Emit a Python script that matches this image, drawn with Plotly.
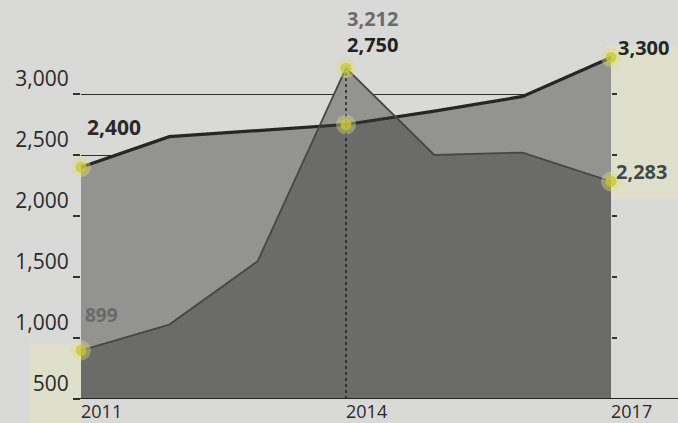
import plotly.graph_objects as go

years = [2011, 2012, 2013, 2014, 2015, 2016, 2017]
series_a = [2400, 2650, 2700, 2750, 2860, 2980, 3300]
series_b = [899, 1110, 1630, 3212, 2500, 2520, 2283]
y_ticks = [500, 1000, 1500, 2000, 2500, 3000]
x_ticks = [2011, 2014, 2017]
x_tick_labels = ["2011", "2014", "2017"]

PAPER = "#d9d9d7"
FILL = "rgba(58,58,58,0.44)"
FONT = "Open Sans"

fig = go.Figure()

# highlighter bands (photo artefacts)
fig.add_shape(type="rect", xref="paper", yref="paper", x0=0.99, x1=1.2, y0=0.545, y1=0.965,
              fillcolor="rgba(228,230,195,0.55)", line_width=0, layer="below")
fig.add_shape(type="rect", xref="paper", yref="paper", x0=-0.097, x1=0.0, y0=-0.1, y1=0.153,
              fillcolor="rgba(228,230,195,0.55)", line_width=0, layer="below")

# opaque paper-coloured bases so gridlines vanish under the areas
for s in (series_a, series_b):
    fig.add_trace(go.Scatter(x=years, y=s, mode="lines", fill="tozeroy", fillcolor=PAPER,
                             line=dict(width=0), hoverinfo="skip"))

fig.add_trace(go.Scatter(x=years, y=series_a, mode="lines", fill="tozeroy", fillcolor=FILL,
                         line=dict(color="#262626", width=3.2), hoverinfo="skip"))
fig.add_trace(go.Scatter(x=years, y=series_b, mode="lines", fill="tozeroy", fillcolor=FILL,
                         line=dict(color="#474747", width=1.8), hoverinfo="skip"))

# dotted guide at the peak year
peak_i = series_b.index(max(series_b))
fig.add_trace(go.Scatter(x=[years[peak_i], years[peak_i]], y=[y_ticks[0], series_b[peak_i]],
                         mode="lines", line=dict(color="#222", width=1.5, dash="dot"),
                         hoverinfo="skip"))

# highlighted points
hx = [years[0], years[0], years[peak_i], years[peak_i], years[-1], years[-1]]
hy = [series_a[0], series_b[0], series_b[peak_i], series_a[peak_i], series_a[-1], series_b[-1]]
fig.add_trace(go.Scatter(x=hx, y=hy, mode="markers",
                         marker=dict(size=20, color="rgba(220,222,120,0.4)", line_width=0),
                         hoverinfo="skip", cliponaxis=False))
fig.add_trace(go.Scatter(x=hx, y=hy, mode="markers",
                         marker=dict(size=11, color="rgba(200,200,50,0.75)", line_width=0),
                         hoverinfo="skip", cliponaxis=False))

# right-side tick axis
fig.add_trace(go.Scatter(x=years, y=series_a, yaxis="y2", mode="lines",
                         line=dict(width=0), opacity=0, hoverinfo="skip"))

def lab(x, y, v, color, xshift, yshift, bold=True, size=21):
    fig.add_annotation(x=x, y=y, text=(f"<b>{v:,}</b>" if bold else f"{v:,}"), showarrow=False,
                       xanchor="left", yanchor="middle", xshift=xshift, yshift=yshift,
                       font=dict(family=FONT, size=size, color=color))

lab(years[0], series_a[0], series_a[0], "#2a2a2a", 4, 40)
lab(years[0], series_b[0], series_b[0], "#6a6a6a", 2, 35, size=19)
lab(years[peak_i], series_b[peak_i], series_b[peak_i], "#6b6b6b", -1, 50, size=20)
lab(years[peak_i], series_b[peak_i], series_a[peak_i], "#222222", -1, 24, size=20)
lab(years[-1], series_a[-1], series_a[-1], "#262626", 5, 10, size=20)
lab(years[-1], series_b[-1], series_b[-1], "#3e4a4a", 3, 10, size=20)

# extend baseline across width
fig.add_shape(type="line", xref="paper", yref="y", x0=-0.015, x1=1.2, y0=y_ticks[0], y1=y_ticks[0],
              line=dict(color="#222", width=2.2), layer="above")

fig.update_layout(
    width=678, height=423,
    margin=dict(l=81, r=67, t=33, b=24),
    paper_bgcolor=PAPER, plot_bgcolor=PAPER,
    showlegend=False,
    font=dict(family=FONT, color="#2a2a2a"),
    xaxis=dict(range=[years[0], years[-1]], tickvals=x_ticks, ticktext=x_tick_labels,
               showgrid=False, zeroline=False, showline=False, ticks="", automargin=False,
               ticklabelstandoff=0,
               ticklabelposition="outside right", tickfont=dict(size=18, color="#2a2a2a")),
    yaxis=dict(range=[500, 3500], tickvals=y_ticks, tickformat=",d", automargin=False,
               showgrid=True, gridcolor="#2e2e2e", gridwidth=1.3, zeroline=False,
               ticks="outside", ticklen=7, tickcolor="#333", tickwidth=1.5,
               ticklabelstandoff=7,
               ticklabelposition="outside top", tickfont=dict(size=21, color="#2a2a2a")),
    yaxis2=dict(overlaying="y", side="right", matches="y", range=[500, 3500], automargin=False,
                tickvals=y_ticks[1:], showticklabels=False, ticks="outside", ticklen=5,
                tickcolor="#333", tickwidth=1.5, showgrid=False, zeroline=False, showline=False),
)

fig.write_html("out.html", config={"displayModeBar": False},
               post_script="document.body.style.margin='0';document.body.style.overflow='hidden';")
